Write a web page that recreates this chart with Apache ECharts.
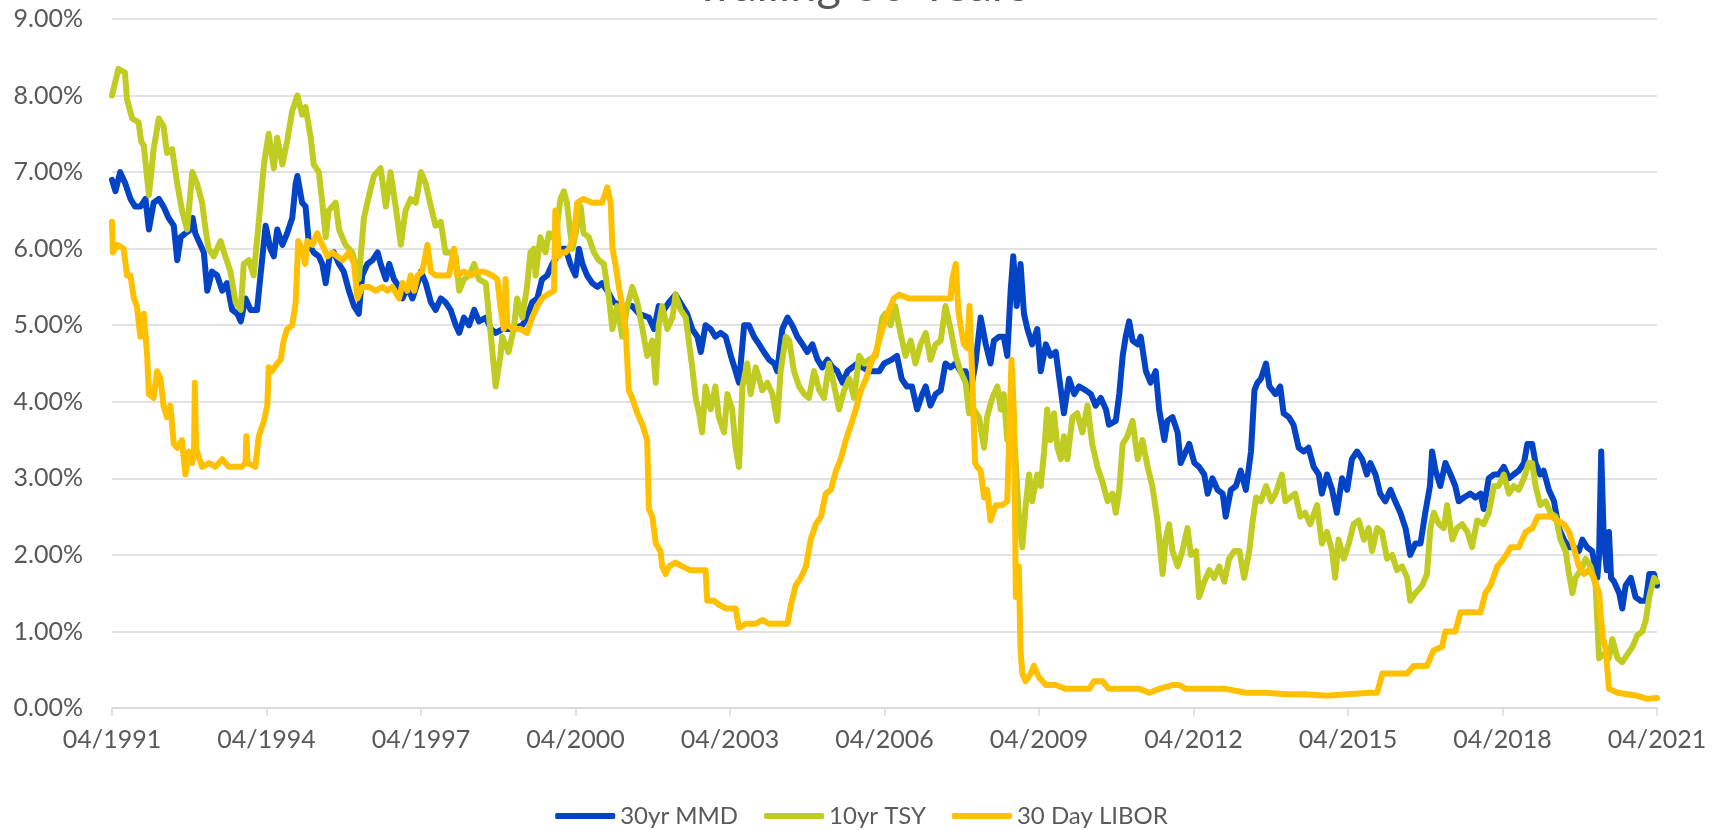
<!DOCTYPE html>
<html>
<head>
<meta charset="utf-8">
<script src="https://cdn.jsdelivr.net/npm/echarts@6/dist/echarts.min.js"></script>
<style>
  html, body { margin: 0; padding: 0; background: #fff; }
  #chart { width: 1723px; height: 830px; }
</style>
</head>
<body>
<div id="chart"></div>
<script>
// x values are months counted from 04/1991, rates are in percent
const mmdMonths = [0,0.8,1.9,3.1,4.3,5.4,6.6,7.8,8.6,9.7,10.9,12,13.2,14.4,15.2,16,17.1,18.3,18.8,19.4,20.6,21.4,22.2,23.3,24.5,25.7,26.8,28,29.2,30,31.1,32.3,33.8,34.6,35.8,36.9,37.7,38.5,39.7,40.8,42,42.8,43.2,44.3,45.1,45.9,47,48.2,49,49.8,50.7,51.7,52.9,54,55.2,56.4,57.5,58.3,59.5,60.7,61.9,62.6,63.8,64.6,65.7,66.9,67.7,68.8,70,71.2,72,73.1,74.3,75.4,76.6,77.7,78.9,80.1,80.9,82,83.2,84.4,85.5,87.1,88.3,89.4,91,93.2,95.6,96.7,97.9,99.1,100.2,101.4,102.6,103.7,104.9,105.7,106.8,108,108.8,109.6,110.7,111.9,113.1,114.2,115.4,116.9,118.9,121.2,122.8,125.1,126.3,127.4,128.6,129.8,131.3,132.9,134,135.2,136.4,137.2,138.3,139.5,140.6,141.8,143,144.2,145.3,146.1,147.3,148.4,149.6,150.8,151.9,153.1,154.3,155,156.2,157.4,158.5,159.7,160.9,162,163.2,164.4,165.5,166.7,167.9,169,170.2,171.4,172.5,173.7,174.9,176.4,177.6,178.8,179.9,181.7,182.9,184,185.2,186.4,187.6,188.8,189.6,190.7,191.9,193.1,194.2,195.4,196.6,197.7,198.9,200.1,201.2,202.4,203.6,204.7,205.5,206.7,207.8,208.6,209.4,210,210.8,211.7,212.5,213.3,214.4,215.6,216.4,217.6,218.7,219.9,221.1,221.8,223,224.2,225.3,226.9,228.1,229.2,230.4,231.6,232.3,233.9,234.7,235.5,236.2,237,237.8,239,239.7,240.9,242,243.2,244,245.2,245.9,247.1,248.3,249,250.2,251,252.2,253.3,254.5,255.3,256.4,257.6,258.8,259.5,260.7,261.9,263,264.2,265.4,266.2,266.9,267.7,268.9,269.7,271.1,272.2,273,274.2,275.3,276.5,277.7,278.8,280,281.2,281.9,283.1,284.3,285.4,286.6,287.8,288.9,290.1,291.3,292.4,293.2,294.4,295.5,296.7,297.9,299,300.2,301.4,302.5,303.7,304.9,306,307.1,307.6,308.4,309.5,310.7,311.9,313,313.8,315,316.5,317.7,318.9,319.6,320.8,322,323.1,324.3,325.5,326.6,327.8,329,329.8,330.9,331.7,332.8,333.6,334.8,336,337.1,338.3,339.5,340.6,341.8,342.6,343.7,344.9,346.1,346.5,347,347.6,348.3,348.8,349.3,350,351.2,351.9,352.7,353.9,355,356.2,357.4,358.2,359.3,360];
const mmdRates = [6.9,6.75,7.0,6.85,6.65,6.55,6.55,6.65,6.25,6.6,6.65,6.55,6.4,6.3,5.85,6.15,6.2,6.25,6.4,6.2,6.05,5.95,5.45,5.7,5.65,5.45,5.55,5.2,5.15,5.05,5.35,5.2,5.2,5.65,6.3,6.0,5.9,6.25,6.05,6.2,6.4,6.85,6.95,6.6,6.55,6.05,5.95,5.9,5.8,5.55,5.9,5.95,5.8,5.7,5.45,5.25,5.15,5.65,5.8,5.85,5.95,5.8,5.6,5.8,5.6,5.5,5.35,5.5,5.35,5.55,5.7,5.55,5.3,5.2,5.35,5.3,5.2,5.0,4.9,5.1,5.0,5.2,5.05,5.1,4.95,4.9,4.95,4.95,5.0,5.1,5.3,5.35,5.6,5.65,5.8,5.9,6.0,6.0,5.8,5.65,6.0,5.8,5.65,5.55,5.5,5.55,5.45,5.3,5.25,5.25,5.15,5.1,4.95,5.25,5.2,5.3,5.4,5.25,5.15,4.95,4.85,4.65,5.0,4.95,4.85,4.9,4.85,4.6,4.4,4.25,5.0,5.0,4.85,4.75,4.65,4.55,4.5,4.4,4.95,5.1,5.0,4.85,4.75,4.65,4.75,4.55,4.45,4.55,4.45,4.4,4.25,4.4,4.45,4.5,4.45,4.4,4.4,4.4,4.5,4.55,4.6,4.3,4.2,4.2,3.9,4.1,4.2,3.95,4.1,4.15,4.5,4.45,4.5,4.4,4.4,4.15,4.5,5.1,4.75,4.5,4.8,4.85,4.85,4.6,5.45,5.9,5.25,5.8,5.15,4.95,4.75,4.95,4.4,4.75,4.6,4.65,4.15,3.85,4.3,4.1,4.2,4.15,4.1,3.95,4.05,3.9,3.7,3.75,4.1,4.6,4.85,5.05,4.8,4.75,4.85,4.4,4.25,4.4,3.9,3.5,3.75,3.8,3.6,3.2,3.35,3.45,3.2,3.15,3.05,2.8,3.0,2.85,2.8,2.5,2.85,2.9,3.1,2.85,3.35,4.15,4.25,4.3,4.5,4.2,4.1,4.2,3.85,3.8,3.7,3.4,3.35,3.4,3.15,3.05,2.8,3.05,2.85,2.55,3.0,2.85,3.25,3.35,3.25,3.05,3.2,3.05,2.8,2.7,2.85,2.7,2.55,2.35,2.0,2.15,2.15,2.55,2.9,3.35,3.1,2.9,3.2,3.05,2.9,2.7,2.75,2.8,2.75,2.8,2.6,3.0,3.05,3.05,3.15,3.0,3.05,3.1,3.2,3.45,3.45,3.2,3.05,3.1,2.85,2.7,2.35,2.2,2.1,2.1,2.05,2.2,2.1,2.05,1.7,2.0,3.35,2.2,1.8,2.3,1.7,1.65,1.5,1.3,1.6,1.7,1.45,1.4,1.4,1.75,1.75,1.6];

const tsyMonths = [0,1.5,3,3.5,4.7,6.2,6.8,7.4,8.6,9.7,10.9,12,12.8,14,15.2,16.3,17.5,18.7,19.8,21,21.8,22.5,23.7,25.3,26.4,27.6,28.8,30,30.7,31.9,33,34.2,35.4,36.5,37.7,38.5,39.7,40.8,42,43.2,44.3,45.1,46.3,47,48.2,49,49.8,50.5,52.1,52.9,54.4,56,57.5,58.7,59.9,61,62.6,63.8,64.9,66.1,67.3,68.4,69.6,70.8,72,73.1,74.3,75.4,76.6,77.7,78.9,80.1,80.9,82,83.2,84.4,85.5,87.1,88.3,89.4,90.5,90.9,92.4,93.6,94.4,95.6,96.7,97.5,98.3,98.7,99.8,101,101.8,102.6,103.7,104.5,105.3,106,106.8,107.3,108.4,109.2,109.9,111.1,112.3,113.4,114.6,115.8,116.6,117.7,118.9,120.1,121.2,122.4,123.6,124.7,125.9,126.7,127.4,128.2,129.4,130.6,131.3,132.5,133.7,134.4,135.2,136,136.8,137.5,138.3,139.5,140.6,141.4,142.6,143.4,144.5,145.3,146.1,146.9,148,148.8,150,150.8,151.5,152.7,153.9,155,155.8,157,157.8,158.9,160.1,161.3,162.4,163.6,164.8,165.9,167.1,168.3,169.4,170.6,171.8,172.9,174.1,175.3,176.4,178,179.5,180.2,181.4,182.5,183.7,184.9,186.1,187.2,188.4,189.6,190.7,191.9,193.1,194.2,195.4,196.6,197.7,198.9,199.7,200.8,202,203.2,203.9,205.1,206.3,207.1,207.8,208.6,209.8,210.6,211.3,212.1,212.9,213.7,214.4,215.6,216.4,217.2,217.9,218.7,219.5,220.3,221.1,221.8,222.6,223.8,224.9,226.1,227.3,228.4,229.6,230.8,232,233.1,233.9,234.7,235.5,236.6,237.8,239,240.1,241.3,242.4,243.6,244.8,245.5,246.3,247.1,248.3,249.4,250.6,251.4,252.6,253.3,254.5,255.7,256.8,258,259.2,260.3,261.5,262.7,263.8,265,265.8,266.6,267.7,268.9,270.1,271.1,272.6,273.4,274.5,275.7,276.9,278,279.2,280.8,281.9,283.1,284.3,285,285.8,287,288.2,289.3,290.5,291.7,292.8,293.6,294.8,295.9,297.1,298.3,299.4,300.6,301.8,302.5,303.7,305.3,306.4,307.2,308,309.2,310.3,311.1,312.3,313.4,314.6,315.8,316.9,318.1,319.6,320.8,322,323.1,324.3,325.5,326.6,327.8,329,330.1,330.9,331.7,332.8,334,335.2,336.4,337.5,338.7,339.5,340.3,341,342.2,343.4,344.5,345.7,346.5,347.6,348.8,349.6,350.8,351.9,353.1,354.3,355.4,356.6,357.4,358.2,359.3,360];
const tsyRates = [8.0,8.35,8.3,7.95,7.7,7.65,7.4,7.35,6.7,7.3,7.7,7.6,7.25,7.3,6.85,6.5,6.25,7.0,6.85,6.6,6.25,6.0,5.9,6.1,5.9,5.7,5.3,5.2,5.8,5.85,5.65,6.35,7.1,7.5,7.05,7.45,7.1,7.4,7.8,8.0,7.75,7.85,7.45,7.1,7.0,6.6,6.15,6.5,6.6,6.25,6.05,5.95,5.6,6.4,6.7,6.95,7.05,6.55,7.0,6.55,6.05,6.5,6.65,6.6,7.0,6.85,6.55,6.3,6.35,5.95,5.95,5.9,5.45,5.6,5.65,5.8,5.6,5.55,4.85,4.2,4.6,4.85,4.65,4.95,5.35,5.1,5.5,5.95,6.0,5.65,6.15,5.95,6.2,6.15,6.3,6.65,6.75,6.6,6.2,6.0,6.3,6.55,6.2,6.15,5.95,5.85,5.8,5.35,4.95,5.25,4.85,5.25,5.5,5.3,4.95,4.6,4.8,4.25,5.0,5.25,4.95,5.1,5.4,5.2,5.1,4.8,4.45,4.05,3.85,3.6,4.2,3.9,4.2,3.8,3.6,4.1,3.9,3.4,3.15,4.2,4.5,4.1,4.45,4.3,4.15,4.25,4.1,3.75,4.4,4.85,4.8,4.4,4.2,4.1,4.05,4.4,4.15,4.05,4.5,4.2,3.9,4.15,4.3,4.05,4.6,4.5,4.55,4.6,5.1,5.15,5.0,5.25,4.9,4.6,4.8,4.5,4.75,4.9,4.55,4.75,4.8,5.25,4.95,4.6,4.4,4.25,3.85,3.9,3.8,3.4,3.8,4.05,4.2,3.9,4.1,3.5,3.95,3.2,2.5,2.1,2.65,3.05,2.7,3.05,2.9,3.35,3.9,3.5,3.85,3.4,3.25,3.55,3.25,3.8,3.85,3.6,3.95,3.45,3.15,2.95,2.7,2.8,2.55,2.85,3.45,3.55,3.75,3.25,3.5,3.15,2.9,2.45,1.75,2.2,2.4,2.05,1.85,2.05,2.35,2.0,2.05,1.45,1.65,1.8,1.7,1.85,1.65,1.95,2.05,2.05,1.7,2.05,2.45,2.75,2.7,2.9,2.7,2.8,3.05,2.7,2.75,2.8,2.5,2.55,2.4,2.65,2.15,2.3,2.05,1.7,2.2,1.95,2.15,2.4,2.45,2.2,2.35,2.05,2.35,2.3,1.95,2.0,1.8,1.85,1.7,1.4,1.5,1.6,1.75,2.35,2.55,2.4,2.35,2.65,2.2,2.35,2.4,2.3,2.1,2.45,2.4,2.55,2.9,2.9,3.05,2.8,2.9,2.85,3.0,3.2,3.2,2.9,2.65,2.7,2.55,2.5,2.2,2.05,1.75,1.5,1.7,1.8,1.95,1.85,1.6,0.65,0.7,0.65,0.9,0.65,0.6,0.7,0.8,0.95,1.0,1.15,1.45,1.7,1.65];

const liborMonths = [0,0.2,1.2,2.7,3.5,4.3,5.1,5.8,6.6,7.4,8.2,8.6,9.7,10.5,11.3,12,12.8,13.6,14.4,15.2,16.3,17.1,17.9,18.7,19.1,19.3,19.6,19.8,21,22.6,24.1,25.7,27.2,29.2,30.3,31.1,31.3,31.6,33.4,34.2,35.4,36.2,36.5,37.3,38.5,39.3,40,40.8,42,42.8,43.4,44.3,45,45.5,46.7,47.8,49,50.2,51.3,52.5,53.7,55.2,56.4,57.2,58.3,59.9,61.4,63,64.2,65.3,66.9,67.7,68.8,69.6,70.4,71.2,72.3,73.5,74.3,75.4,77,78.5,79.7,80.4,82,83.6,85.1,86.7,88.6,89.8,90.5,91.3,91.7,92.1,93.6,95.2,96.7,97.9,99.1,100.2,101.4,103,103.3,103.7,104.1,104.9,105.7,106.5,107.6,108.4,109.9,111.9,114.2,115.4,116.2,116.6,117.3,118.1,118.9,119.7,120.4,121.2,122.4,123.6,124.7,125.1,125.9,126.7,127.8,128.2,129,129.8,131.3,132.9,134.8,136.8,138.3,138.7,140.3,141.4,143,145.3,146.1,147.7,150,151.5,153.1,155.4,157.4,158.2,159.3,160.5,161.7,162.8,164,165.2,166.3,167.5,168.7,169.8,171,172.2,173.3,174.5,175.7,176.8,178,179.5,180.7,182.2,183.4,185.7,188,190.3,192.7,195.4,195.8,196.6,197.2,197.7,198.5,199.3,199.8,200.4,201.1,201.6,202.4,203.2,203.9,204.7,205.9,207.4,208.6,209.6,210.2,210.6,211.3,211.7,212.1,212.9,214.1,214.8,216,217.6,219.9,222.2,225.3,227.7,228.8,230.8,232.3,236.2,239.4,241.7,244,247.1,248.7,250.2,254.9,259.5,264.2,268.9,273.5,277.7,283.1,287.8,293.2,294.8,296,299.4,301.8,303.3,306.4,307.9,309.9,310.7,313,314.2,316.5,318.9,320,321.2,322.8,324.3,325.9,327.8,329.4,331,332.2,333.3,335.2,336.8,338.3,339.5,340.6,341.8,343,344.1,345.3,346.5,347.3,348.1,348.8,350.8,353.1,355.4,357.8,360];
const liborRates = [6.35,5.95,6.05,6.0,5.65,5.65,5.35,5.25,4.85,5.15,4.6,4.1,4.05,4.4,4.3,3.95,3.8,3.95,3.45,3.4,3.5,3.05,3.35,3.2,3.3,4.25,3.4,3.35,3.15,3.2,3.15,3.25,3.15,3.15,3.15,3.2,3.55,3.2,3.15,3.55,3.75,3.95,4.45,4.4,4.5,4.55,4.8,4.95,5.0,5.3,6.1,6.0,5.8,6.1,6.05,6.2,6.05,5.9,5.95,5.9,5.85,5.95,5.8,5.35,5.5,5.5,5.45,5.5,5.45,5.5,5.35,5.55,5.45,5.65,5.45,5.65,5.7,6.05,5.7,5.65,5.65,5.65,6.0,5.65,5.7,5.65,5.7,5.7,5.65,5.6,5.25,4.95,5.6,5.0,4.95,4.95,4.9,5.1,5.25,5.35,5.4,5.45,6.5,6.4,5.9,5.95,5.95,6.0,6.15,6.6,6.65,6.6,6.6,6.8,6.6,6.0,5.8,5.5,5.25,4.95,4.15,4.05,3.85,3.7,3.5,2.6,2.5,2.15,2.05,1.85,1.75,1.85,1.9,1.85,1.8,1.8,1.8,1.4,1.4,1.35,1.3,1.3,1.05,1.1,1.1,1.15,1.1,1.1,1.1,1.35,1.6,1.7,1.85,2.2,2.4,2.5,2.8,2.85,3.1,3.25,3.5,3.7,3.9,4.15,4.3,4.5,4.65,4.95,5.15,5.35,5.4,5.35,5.35,5.35,5.35,5.35,5.6,5.8,5.2,5.0,4.75,4.7,5.25,4.4,3.2,3.15,3.1,2.75,2.85,2.45,2.65,2.65,2.7,4.55,3.8,1.45,1.85,0.75,0.45,0.35,0.45,0.55,0.4,0.3,0.3,0.25,0.25,0.25,0.35,0.35,0.25,0.25,0.25,0.2,0.25,0.3,0.3,0.25,0.25,0.25,0.2,0.2,0.18,0.18,0.16,0.18,0.2,0.2,0.45,0.45,0.45,0.55,0.55,0.75,0.8,1.0,1.0,1.25,1.25,1.25,1.5,1.6,1.85,1.95,2.1,2.1,2.3,2.35,2.5,2.5,2.5,2.45,2.4,2.3,2.1,1.85,1.75,1.8,1.7,1.5,0.95,0.75,0.25,0.2,0.18,0.16,0.12,0.13];

const seriesNames = ['30yr MMD', '10yr TSY', '30 Day LIBOR'];
const seriesColors = ['#0343C6', '#C1CC23', '#FFC000'];
const yTicks = [0, 1, 2, 3, 4, 5, 6, 7, 8, 9];

const textColor = '#595959';
const fontFamily = 'Lato, "Open Sans", sans-serif';

function pairs(months, rates) {
  return months.map((m, i) => [m, rates[i]]);
}

function lineSeries(name, color, data) {
  return {
    name: name,
    type: 'line',
    symbol: 'none',
    data: data,
    itemStyle: { color: color },
    lineStyle: { width: 6, color: color, cap: 'round', join: 'round' }
  };
}

const chart = echarts.init(document.getElementById('chart'));
const option = {
  animation: false,
  title: {
    text: 'Trailing 30 Years',
    left: 'center',
    top: -43,
    textStyle: { fontFamily: fontFamily, fontSize: 47, fontWeight: 'normal', color: textColor }
  },
  grid: { left: 112, right: 66, top: 19, bottom: 122 },
  legend: {
    bottom: -3,
    icon: 'roundRect',
    itemWidth: 60,
    itemHeight: 6,
    itemGap: 26,
    textStyle: { fontFamily: fontFamily, fontSize: 24, color: textColor },
    data: seriesNames
  },
  xAxis: {
    type: 'value',
    min: 0,
    max: 360,
    interval: 36,
    axisLine: { lineStyle: { color: '#d9d9d9', width: 1.5 } },
    axisTick: { show: true, length: 8, lineStyle: { color: '#d9d9d9', width: 1.5 } },
    splitLine: { show: false },
    axisLabel: {
      margin: 19,
      fontFamily: fontFamily,
      fontSize: 25,
      color: textColor,
      formatter: v => '04/' + (1991 + v / 12)
    }
  },
  yAxis: {
    type: 'value',
    min: yTicks[0],
    max: yTicks[yTicks.length - 1],
    interval: 1,
    axisLine: { show: false },
    axisTick: { show: false },
    splitLine: { lineStyle: { color: '#d9d9d9', width: 1.5 } },
    axisLabel: {
      margin: 29,
      fontFamily: fontFamily,
      fontSize: 25,
      color: textColor,
      formatter: v => v.toFixed(2) + '%'
    }
  },
  series: [
    lineSeries(seriesNames[0], seriesColors[0], pairs(mmdMonths, mmdRates)),
    lineSeries(seriesNames[1], seriesColors[1], pairs(tsyMonths, tsyRates)),
    lineSeries(seriesNames[2], seriesColors[2], pairs(liborMonths, liborRates))
  ]
};
chart.setOption(option);
</script>
</body>
</html>
